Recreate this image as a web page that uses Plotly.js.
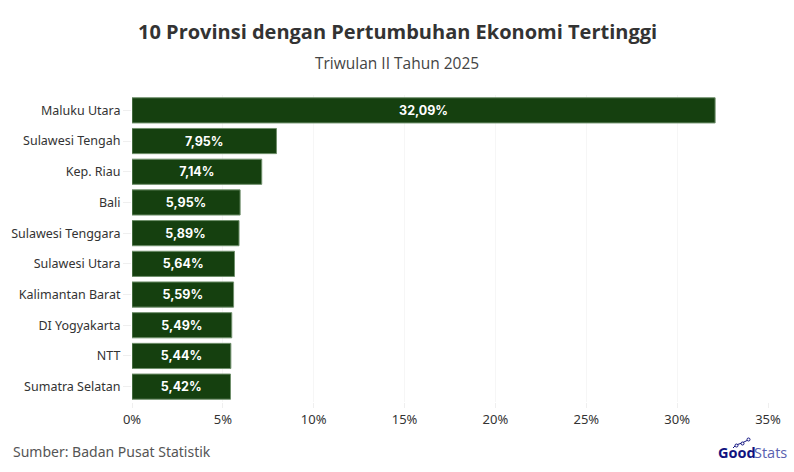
<!DOCTYPE html>
<html><head><meta charset="utf-8">
<script src="https://cdn.plot.ly/plotly-3.0.1.min.js"></script>
<style>html,body{margin:0;padding:0;background:#fff}#c{width:794px;height:472px}</style></head>
<body><div id="c"></div>
<script>
const provinces = ["Maluku Utara","Sulawesi Tengah","Kep. Riau","Bali","Sulawesi Tenggara","Sulawesi Utara","Kalimantan Barat","DI Yogyakarta","NTT","Sumatra Selatan"];
const growth = [32.09,7.95,7.14,5.95,5.89,5.64,5.59,5.49,5.44,5.42];
const labels = ["32,09%","7,95%","7,14%","5,95%","5,89%","5,64%","5,59%","5,49%","5,44%","5,42%"];
const tickVals = [0,5,10,15,20,25,30,35];
const tickText = ["0%","5%","10%","15%","20%","25%","30%","35%"];
const W=794,H=472,L=132,R=26,T=95,B=70;
const px=v=>(v-L)/(W-L-R), py=v=>(H-B-v)/(H-T-B);
const trace={type:"bar",orientation:"h",y:provinces,x:growth,text:labels,textposition:"inside",insidetextanchor:"middle",
 textangle:0,constraintext:"none",
 textfont:{family:"Inter, sans-serif",size:12.5,color:"#ffffff",weight:700},
 marker:{color:"#15400f",line:{color:"#6f8f6b",width:1}},width:0.82,hoverinfo:"skip"};
const layout={width:W,height:H,margin:{l:L,r:R,t:T,b:B},paper_bgcolor:"#fff",plot_bgcolor:"#fff",showlegend:false,
 font:{family:"'Noto Sans',sans-serif",color:"#333"},
 xaxis:{range:[0,35],tickvals:tickVals,ticktext:tickText,showgrid:true,gridcolor:"#f6f6f6",gridwidth:1,zeroline:false,showline:false,
   ticks:"outside",ticklen:5,tickcolor:"#efefef",tickfont:{family:"'Noto Sans',sans-serif",size:13,color:"#333"}},
 yaxis:{categoryorder:"array",categoryarray:provinces.slice().reverse(),showgrid:false,zeroline:false,showline:false,
   ticks:"outside",ticklen:8,tickcolor:"#efefef",tickfont:{family:"'Noto Sans',sans-serif",size:12.5,color:"#333"}},
 annotations:[
  {xref:"paper",yref:"paper",x:px(397),y:py(32),text:"<b>10 Provinsi dengan Pertumbuhan Ekonomi Tertinggi</b>",showarrow:false,xanchor:"center",yanchor:"middle",font:{family:"'Open Sans',sans-serif",size:20,color:"#333"}},
  {xref:"paper",yref:"paper",x:px(397),y:py(63),text:"Triwulan II Tahun 2025",showarrow:false,xanchor:"center",yanchor:"middle",font:{family:"'Open Sans',sans-serif",size:15.5,color:"#444"}},
  {xref:"paper",yref:"paper",x:px(11),y:py(451),text:"Sumber: Badan Pusat Statistik",showarrow:false,xanchor:"left",yanchor:"middle",font:{family:"'Noto Sans',sans-serif",size:14,color:"#555"}},
  {xref:"paper",yref:"paper",x:px(756),y:py(452),text:"<b>Good</b>",showarrow:false,xanchor:"right",yanchor:"middle",font:{family:"'Open Sans',sans-serif",size:14.5,color:"#10127f"},borderpad:0,borderwidth:0},
  {xref:"paper",yref:"paper",x:px(752),y:py(452),text:"Stats",showarrow:false,xanchor:"left",yanchor:"middle",font:{family:"'Open Sans',sans-serif",size:14.5,color:"#5a5fb0"}}
 ],
 shapes:[
  {type:"path",xref:"paper",yref:"paper",path:`M ${px(733)} ${py(448)} L ${px(736)} ${py(445)} L ${px(742)} ${py(443)} L ${px(748)} ${py(440)}`,line:{color:"#10127f",width:1}},
  {type:"circle",xref:"paper",yref:"paper",x0:px(735),x1:px(738),y0:py(447),y1:py(444),line:{color:"#10127f",width:1},fillcolor:"#fff"},
  {type:"circle",xref:"paper",yref:"paper",x0:px(741),x1:px(744),y0:py(445),y1:py(442),line:{color:"#10127f",width:1},fillcolor:"#fff"},
  {type:"circle",xref:"paper",yref:"paper",x0:px(747),x1:px(750),y0:py(441),y1:py(438),line:{color:"#10127f",width:1},fillcolor:"#fff"}
 ]};
Plotly.newPlot("c",[trace],layout,{displayModeBar:false,staticPlot:true});
</script></body></html>
